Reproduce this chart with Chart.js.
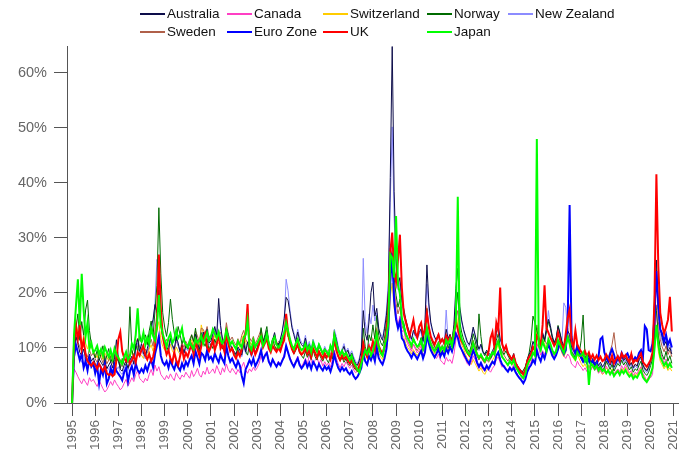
<!DOCTYPE html>
<html>
<head>
<meta charset="utf-8">
<script src="https://cdn.jsdelivr.net/npm/chart.js@4/dist/chart.umd.min.js"></script>
<style>
  html, body { margin: 0; padding: 0; background: #fff; }
  #wrap { position: relative; width: 694px; height: 457px; overflow: hidden; }
  #wrap canvas { position: absolute; left: 0; top: 0; }
  #legend { position: absolute; left: 0; top: 0; width: 694px; height: 44px;
            font-family: "Liberation Sans", Arial, sans-serif; font-size: 13.5px; color: #111; }
  .item { position: absolute; height: 18px; line-height: 18px; white-space: nowrap; }
  .item .swatch { position: absolute; left: 0; width: 25px; }
  .item .name { position: absolute; left: 27px; top: 0; }
</style>
</head>
<body>
<div id="wrap">
  <canvas id="chart" width="694" height="457"></canvas>
  <div id="legend"></div>
</div>
<script>
// Monthly series, January 1995 to December 2020 (values in %), one row per year.
const startYear = 1995;
const yearTicks = [1995,1996,1997,1998,1999,2000,2001,2002,2003,2004,2005,2006,2007,
                   2008,2009,2010,2011,2012,2013,2014,2015,2016,2017,2018,2019,2020,2021];
const percentTicks = [0, 10, 20, 30, 40, 50, 60];

const australia = [
  0, 9.5, 12.0, 10.8, 9.2, 8.6, 9.8, 8.1, 7.5, 8.9, 7.6, 8.2,
  7.1, 6.5, 8.0, 7.4, 6.8, 7.7, 6.2, 6.9, 7.5, 6.4, 7.9, 11.5,
  8.2, 6.1, 5.8, 6.9, 7.6, 6.3, 7.8, 8.5, 7.1, 10.2, 11.6, 9.4,
  10.8, 9.1, 8.4, 9.9, 11.3, 13.8, 15.2, 17.9, 16.4, 20.5, 14.2, 12.1,
  11.4, 10.2, 9.6, 11.8, 10.5, 9.7, 12.1, 10.9, 9.3, 10.6, 9.1, 10.4,
  9.8, 11.2, 10.1, 9.4, 12.5, 11.0, 9.8, 10.7, 12.9, 11.6, 13.4, 10.9,
  11.3, 12.6, 13.9, 12.2, 19.0, 14.1, 11.5, 10.8, 13.6, 12.4, 10.7, 9.9,
  9.4, 8.9, 10.2, 9.6, 8.7, 10.8, 9.3, 11.1, 9.8, 8.6, 9.9, 9.2,
  10.1, 11.4, 12.2, 10.6, 11.9, 13.2, 10.8, 9.7, 11.5, 12.8, 11.0, 10.3,
  11.6, 13.1, 15.4, 19.2, 18.6, 16.3, 13.7, 12.4, 11.1, 12.9, 11.3, 10.6,
  10.2, 11.8, 9.9, 10.7, 9.4, 11.1, 10.0, 9.2, 10.5, 9.6, 8.8, 9.9,
  9.1, 8.6, 10.2, 9.5, 12.8, 11.6, 9.9, 8.7, 9.4, 10.3, 8.9, 9.6,
  8.4, 9.1, 8.0, 7.2, 6.9, 7.8, 9.6, 16.8, 12.7, 11.4, 14.9, 20.1,
  22.0, 15.8, 17.2, 13.6, 12.1, 11.4, 13.5, 15.9, 20.4, 41.0, 64.8, 38.5,
  26.2, 21.4, 22.8, 18.6, 17.1, 15.3, 13.9, 12.8, 11.6, 13.2, 12.4, 11.9,
  12.8, 13.5, 11.2, 14.6, 25.1, 18.2, 14.7, 13.1, 12.0, 11.4, 12.6, 11.1,
  11.8, 10.9, 13.4, 11.7, 12.5, 11.3, 14.2, 20.8, 24.5, 17.6, 15.1, 13.4,
  12.2, 11.1, 10.6, 11.9, 13.8, 12.4, 10.9, 9.8, 10.7, 9.4, 8.9, 9.6,
  9.1, 8.7, 9.5, 10.2, 12.9, 14.1, 11.6, 10.8, 9.7, 10.3, 9.2, 8.6,
  8.1, 9.0, 7.4, 6.8, 6.2, 5.9, 5.4, 6.1, 7.9, 8.8, 9.6, 11.2,
  10.4, 12.1, 11.3, 10.6, 12.8, 11.5, 13.7, 15.2, 14.1, 12.2, 11.0, 11.8,
  13.9, 12.6, 11.2, 10.4, 11.8, 13.1, 12.5, 10.1, 9.6, 8.8, 10.9, 9.3,
  8.7, 7.9, 8.4, 7.6, 8.9, 7.3, 8.1, 7.0, 7.7, 6.8, 7.4, 6.6,
  7.1, 8.3, 7.5, 6.9, 7.8, 6.5, 7.2, 8.0, 7.4, 8.6, 7.7, 8.1,
  7.5, 6.8, 7.3, 6.4, 7.0, 6.7, 7.9, 8.4, 6.9, 6.2, 5.8, 6.5,
  7.8, 8.6, 11.4, 26.0, 17.2, 13.6, 11.9, 10.5, 11.2, 9.4, 10.1, 8.9
];

const canada = [
  0, 6.2, 5.6, 4.8, 4.1, 3.5, 4.4, 3.8, 3.2, 4.6, 3.9, 4.3,
  3.6, 3.0, 4.1, 3.4, 2.6, 2.0, 2.4, 3.1, 3.9, 3.2, 4.2, 3.5,
  3.0, 2.4, 2.8, 3.6, 4.3, 3.1, 3.8, 4.6, 3.9, 5.2, 5.9, 4.5,
  4.1, 3.7, 4.5, 4.0, 5.2, 6.1, 5.0, 6.9, 5.8, 6.6, 5.2, 4.7,
  4.2, 5.0, 4.4, 5.3, 4.6, 4.1, 5.5, 4.8, 4.3, 5.1, 4.7, 5.6,
  5.0, 4.5, 5.9, 4.8, 5.4, 6.3, 5.1, 4.7, 5.8, 5.2, 6.5, 5.3,
  5.7, 6.2, 5.4, 6.8, 5.9, 5.1, 6.4, 5.6, 7.1, 6.0, 5.5, 6.3,
  5.8, 5.2, 6.1, 5.5, 6.6, 7.4, 6.0, 5.4, 6.2, 5.7, 6.5, 5.9,
  6.4, 7.2, 8.6, 7.5, 8.9, 9.4, 7.8, 6.9, 8.1, 7.3, 6.8, 7.6,
  7.0, 7.9, 8.8, 10.4, 9.1, 8.3, 7.4, 6.8, 7.7, 8.5, 7.2, 6.6,
  7.3, 8.1, 7.0, 8.7, 7.6, 6.9, 7.8, 8.4, 7.1, 7.9, 6.7, 7.5,
  6.8, 7.4, 6.5, 7.9, 9.6, 8.2, 7.1, 6.4, 7.2, 6.6, 7.5, 6.9,
  6.3, 6.9, 6.0, 5.5, 5.8, 6.5, 7.4, 11.2, 9.0, 8.6, 10.8, 9.5,
  10.2, 8.8, 9.7, 8.1, 7.6, 7.2, 8.4, 9.9, 13.5, 24.6, 28.4, 20.7,
  16.3, 14.1, 15.8, 12.9, 13.4, 11.6, 10.8, 10.1, 9.4, 10.7, 9.8, 9.1,
  9.6, 10.4, 8.7, 9.3, 13.8, 11.2, 9.9, 9.2, 8.6, 8.1, 8.9, 7.8,
  7.4, 7.0, 8.3, 7.6, 7.9, 7.2, 8.8, 11.4, 13.6, 11.0, 9.7, 8.5,
  7.9, 7.1, 6.8, 7.4, 8.6, 7.9, 7.0, 6.3, 6.9, 6.1, 5.8, 6.4,
  6.0, 5.6, 6.3, 6.8, 7.9, 8.4, 7.3, 6.5, 6.9, 6.2, 5.9, 6.6,
  6.2, 7.0, 5.8, 5.2, 4.7, 4.4, 4.9, 5.3, 6.1, 6.9, 7.4, 8.8,
  9.4, 10.8, 9.9, 8.7, 9.5, 8.8, 9.9, 11.4, 10.5, 9.2, 8.4, 9.1,
  11.0, 10.2, 9.3, 8.6, 8.1, 8.9, 8.4, 7.1, 6.8, 6.4, 7.6, 6.9,
  6.5, 5.9, 6.4, 5.7, 6.8, 6.0, 6.6, 5.9, 6.3, 5.4, 5.9, 5.3,
  5.6, 6.7, 6.1, 5.4, 6.0, 5.3, 5.8, 6.2, 5.7, 6.8, 6.1, 7.0,
  6.2, 5.5, 5.9, 5.0, 5.6, 5.3, 6.1, 6.6, 5.4, 4.8, 3.8, 4.9,
  4.6, 5.2, 10.4, 17.8, 12.1, 9.4, 8.2, 7.3, 8.0, 6.9, 7.4, 6.5
];

const switzerland = [
  0, 11.2, 14.5, 12.8, 11.6, 10.4, 12.2, 10.9, 9.8, 11.3, 10.1, 9.4,
  8.9, 8.2, 9.6, 8.8, 7.9, 9.1, 8.4, 7.6, 8.7, 7.9, 9.3, 8.1,
  8.6, 7.8, 7.2, 8.4, 9.1, 7.7, 8.3, 9.5, 8.2, 9.9, 10.4, 9.0,
  8.7, 8.1, 9.3, 8.5, 9.8, 10.6, 9.4, 11.7, 13.2, 14.8, 11.6, 10.3,
  9.6, 10.4, 9.1, 10.7, 9.5, 8.9, 10.2, 9.4, 8.8, 10.1, 9.3, 10.5,
  9.9, 10.8, 11.5, 10.2, 12.1, 11.4, 10.3, 14.2, 12.6, 11.9, 12.8, 11.2,
  11.6, 10.9, 12.3, 11.4, 10.8, 12.0, 11.1, 10.5, 13.8, 11.7, 10.6, 11.3,
  10.4, 9.8, 10.9, 10.1, 11.6, 12.4, 11.0, 10.3, 11.2, 10.6, 11.5, 10.2,
  10.9, 11.8, 12.6, 10.7, 11.4, 12.2, 10.5, 9.8, 11.0, 10.4, 9.9, 10.6,
  10.1, 10.8, 11.6, 13.2, 11.9, 10.7, 9.9, 9.4, 10.2, 10.9, 9.6, 9.1,
  9.5, 10.3, 9.2, 9.8, 8.9, 10.1, 9.4, 8.7, 9.6, 9.0, 8.4, 9.2,
  8.6, 9.1, 8.2, 9.4, 10.8, 9.7, 8.8, 8.1, 8.9, 8.3, 8.7, 8.0,
  7.5, 8.1, 7.2, 6.6, 6.2, 6.9, 7.6, 10.4, 8.9, 8.2, 9.8, 9.0,
  9.7, 8.6, 11.2, 9.1, 8.4, 7.9, 8.8, 9.6, 12.1, 19.4, 21.8, 17.3,
  15.1, 13.8, 14.6, 12.4, 11.9, 10.8, 10.1, 9.6, 8.9, 9.7, 9.1, 8.6,
  9.2, 9.8, 8.5, 9.4, 12.6, 11.1, 10.2, 9.5, 8.9, 9.6, 10.3, 9.1,
  9.7, 8.9, 10.4, 9.6, 10.8, 11.7, 13.4, 16.9, 14.2, 11.8, 10.6, 9.9,
  8.8, 8.1, 7.6, 7.0, 7.9, 7.2, 6.5, 5.8, 6.4, 5.6, 5.2, 5.9,
  6.3, 7.1, 7.8, 8.4, 9.6, 10.8, 9.1, 8.2, 7.9, 7.3, 6.8, 7.5,
  6.9, 7.4, 6.6, 5.9, 5.3, 4.8, 5.2, 5.7, 6.6, 7.4, 7.9, 8.9,
  9.8, 13.6, 11.4, 10.2, 11.5, 10.8, 9.9, 10.6, 9.6, 8.8, 8.2, 8.9,
  9.6, 10.4, 9.1, 8.4, 9.2, 12.8, 10.6, 8.7, 8.1, 7.6, 8.8, 8.0,
  7.2, 6.6, 7.1, 6.3, 6.9, 6.1, 6.8, 6.0, 6.4, 5.6, 5.9, 5.2,
  5.5, 6.4, 5.9, 5.3, 6.2, 5.1, 5.6, 5.9, 5.4, 6.3, 5.8, 6.5,
  5.9, 5.2, 5.6, 4.8, 5.3, 5.0, 5.8, 6.5, 5.1, 4.6, 4.2, 4.7,
  5.4, 6.2, 9.8, 13.6, 9.4, 7.6, 6.9, 6.2, 6.8, 5.9, 6.4, 5.8
];

const norway = [
  0, 8.9, 13.6, 16.2, 11.4, 14.8, 12.3, 16.9, 18.7, 13.2, 10.6, 9.4,
  8.2, 9.6, 7.8, 8.9, 10.4, 7.3, 8.6, 9.9, 7.4, 8.1, 7.0, 8.4,
  7.6, 6.3, 8.1, 7.2, 6.8, 8.9, 17.5, 9.6, 8.2, 10.7, 9.4, 12.6,
  10.9, 11.8, 12.4, 10.6, 13.1, 14.9, 12.2, 16.8, 21.4, 35.5, 23.6, 16.4,
  13.8, 12.1, 14.6, 18.9, 15.2, 12.7, 11.3, 13.9, 12.4, 10.8, 11.9, 10.6,
  9.8, 10.9, 12.4, 11.2, 13.6, 10.4, 9.2, 12.8, 11.1, 10.3, 11.7, 9.6,
  10.8, 9.9, 11.6, 10.4, 12.9, 11.3, 9.8, 10.6, 13.4, 11.2, 9.5, 10.1,
  9.1, 8.6, 9.7, 8.8, 10.3, 12.1, 9.4, 8.7, 10.6, 9.2, 10.8, 9.0,
  9.8, 10.6, 13.7, 11.2, 12.4, 13.9, 10.9, 9.7, 11.6, 10.4, 9.6, 10.9,
  9.7, 10.8, 12.3, 14.6, 12.1, 11.2, 9.8, 8.9, 9.6, 10.4, 9.1, 8.6,
  8.1, 9.4, 8.3, 9.1, 7.9, 9.6, 8.4, 7.8, 9.0, 8.2, 7.6, 8.5,
  7.9, 7.3, 8.6, 8.0, 11.6, 10.1, 8.4, 7.6, 8.3, 7.4, 8.0, 7.2,
  6.8, 7.4, 6.5, 6.0, 5.7, 6.4, 7.9, 13.6, 10.2, 9.1, 12.4, 11.3,
  14.2, 11.6, 15.9, 12.3, 11.0, 10.4, 11.8, 14.6, 19.2, 28.1, 26.4, 22.8,
  19.6, 17.4, 18.9, 15.2, 14.6, 12.8, 11.9, 11.2, 10.4, 11.8, 10.9, 10.3,
  10.8, 11.9, 9.7, 11.4, 17.2, 13.6, 11.8, 10.9, 10.2, 9.6, 10.7, 9.8,
  10.1, 9.4, 11.2, 10.0, 10.9, 10.2, 12.6, 16.4, 20.1, 14.8, 12.9, 11.6,
  10.8, 9.9, 9.2, 10.4, 12.6, 11.3, 9.6, 16.2, 12.1, 9.4, 8.6, 9.3,
  8.7, 8.1, 8.9, 9.6, 11.4, 12.6, 10.2, 9.4, 8.8, 9.5, 8.6, 8.0,
  7.6, 8.4, 7.0, 6.4, 5.8, 5.3, 5.9, 6.6, 7.8, 9.1, 11.4, 15.8,
  14.6, 13.2, 11.8, 10.9, 12.4, 11.2, 12.9, 14.8, 13.6, 11.9, 10.8, 11.4,
  14.1, 12.8, 11.0, 9.9, 10.6, 12.2, 11.1, 9.3, 8.8, 8.1, 9.6, 9.1,
  11.4, 16.0, 8.6, 7.4, 8.2, 6.9, 7.6, 6.5, 7.1, 6.2, 6.8, 5.9,
  6.4, 7.6, 6.9, 6.1, 7.0, 5.8, 6.5, 7.2, 6.7, 7.8, 6.9, 7.5,
  6.8, 6.0, 6.6, 5.6, 6.2, 5.9, 6.9, 7.6, 6.0, 5.4, 5.0, 5.6,
  6.8, 7.9, 19.6, 16.8, 12.2, 10.1, 8.8, 7.9, 9.4, 7.6, 8.6, 7.2
];

const newZealand = [
  0, 7.8, 10.4, 9.1, 8.2, 7.4, 8.8, 7.1, 6.6, 7.9, 6.8, 7.3,
  6.4, 5.9, 7.2, 6.6, 5.8, 7.0, 5.6, 6.3, 6.9, 5.7, 7.1, 6.0,
  6.6, 5.5, 5.2, 6.3, 7.1, 5.9, 7.4, 8.2, 6.9, 9.6, 10.9, 8.8,
  10.1, 8.7, 8.0, 9.4, 10.9, 13.2, 14.6, 18.2, 26.1, 24.3, 15.6, 12.4,
  11.2, 10.1, 9.5, 11.4, 10.2, 9.4, 11.7, 10.5, 9.1, 10.3, 8.9, 10.0,
  9.5, 10.9, 9.8, 9.1, 12.2, 10.7, 9.5, 10.4, 12.6, 11.3, 13.1, 10.6,
  11.0, 12.3, 13.5, 11.9, 16.8, 13.8, 11.2, 10.5, 13.2, 12.1, 10.4, 9.6,
  9.1, 8.6, 9.9, 9.3, 8.4, 10.5, 9.0, 10.8, 9.5, 8.3, 9.6, 8.9,
  9.8, 11.1, 11.9, 10.3, 11.6, 12.9, 10.5, 9.4, 11.2, 12.5, 10.7, 10.0,
  11.3, 12.8, 15.1, 22.5, 20.4, 16.9, 14.2, 12.8, 11.6, 13.4, 11.8, 11.0,
  10.6, 12.3, 10.3, 11.2, 9.8, 11.6, 10.4, 9.6, 10.9, 10.0, 9.2, 10.3,
  9.5, 9.0, 10.7, 9.9, 13.4, 12.1, 10.3, 9.1, 9.8, 10.8, 9.3, 10.0,
  8.8, 9.5, 8.4, 7.6, 7.2, 8.2, 10.1, 26.3, 14.8, 12.6, 16.2, 14.4,
  17.8, 14.9, 16.4, 13.1, 12.6, 11.8, 13.9, 16.8, 22.1, 36.5, 50.2, 33.6,
  24.8, 20.6, 21.9, 17.8, 16.5, 14.9, 13.6, 12.5, 11.3, 12.9, 12.1, 11.6,
  12.4, 13.2, 10.9, 14.1, 21.6, 17.1, 14.3, 12.8, 11.7, 11.1, 12.3, 10.8,
  11.5, 10.6, 16.9, 11.4, 12.2, 11.0, 13.8, 17.9, 20.2, 16.8, 14.7, 13.1,
  11.9, 10.8, 10.3, 11.6, 13.5, 12.1, 10.6, 9.5, 10.4, 9.1, 8.6, 9.3,
  8.8, 8.4, 9.2, 9.9, 12.6, 13.8, 11.3, 10.5, 9.4, 10.0, 8.9, 8.3,
  7.8, 8.7, 7.1, 6.5, 5.9, 5.6, 5.2, 5.8, 7.6, 8.5, 9.3, 10.9,
  10.1, 11.8, 11.0, 10.3, 12.5, 11.2, 13.4, 16.8, 13.8, 11.9, 10.7, 11.5,
  13.6, 12.3, 10.9, 18.2, 17.4, 12.8, 12.2, 9.8, 9.3, 8.5, 10.6, 9.0,
  8.4, 7.6, 8.1, 7.3, 8.6, 7.0, 7.8, 6.7, 7.4, 6.5, 7.1, 6.3,
  6.8, 8.0, 7.2, 6.6, 7.5, 6.2, 6.9, 7.7, 7.1, 8.3, 7.4, 7.8,
  7.2, 6.5, 7.0, 6.1, 6.7, 6.4, 7.6, 8.1, 6.6, 5.9, 5.5, 6.2,
  7.5, 9.1, 16.2, 23.4, 16.8, 12.6, 11.2, 10.3, 11.8, 9.9, 10.6, 9.4
];

const sweden = [
  0, 9.8, 12.6, 11.1, 10.2, 9.3, 10.9, 9.0, 8.4, 9.7, 8.6, 9.1,
  8.0, 7.4, 8.9, 8.2, 7.3, 8.6, 7.1, 7.8, 8.5, 7.2, 8.8, 7.5,
  8.1, 7.0, 6.6, 7.8, 8.6, 7.3, 8.8, 9.6, 8.2, 10.9, 11.8, 10.2,
  9.6, 8.9, 9.8, 9.1, 10.4, 11.6, 10.3, 13.4, 16.2, 21.8, 14.3, 12.0,
  10.8, 11.6, 10.2, 11.9, 10.6, 9.8, 11.3, 10.4, 9.6, 11.0, 10.1, 11.2,
  10.5, 11.6, 12.4, 11.0, 13.1, 12.2, 11.0, 13.6, 13.4, 12.5, 13.9, 12.0,
  12.4, 11.7, 13.1, 12.2, 11.6, 12.9, 11.8, 11.2, 14.6, 12.5, 11.4, 12.0,
  11.1, 10.5, 11.7, 10.8, 12.3, 13.2, 11.6, 10.9, 11.9, 11.2, 12.1, 10.8,
  11.5, 12.4, 13.4, 11.3, 12.0, 12.9, 11.1, 10.4, 11.7, 11.0, 10.5, 11.2,
  10.7, 11.4, 12.3, 13.9, 12.5, 11.3, 10.5, 9.9, 10.8, 11.5, 10.2, 9.7,
  10.1, 10.9, 9.8, 10.5, 9.5, 10.7, 10.0, 9.3, 10.2, 9.6, 9.0, 9.8,
  9.2, 9.7, 8.8, 10.1, 13.2, 10.3, 9.4, 8.7, 9.5, 8.9, 9.3, 8.6,
  8.0, 8.7, 7.8, 7.1, 6.7, 7.5, 8.2, 11.3, 9.6, 8.8, 10.5, 9.7,
  10.6, 9.3, 12.0, 9.8, 9.1, 8.6, 9.5, 11.4, 14.8, 24.2, 25.6, 20.4,
  18.1, 16.2, 17.5, 14.1, 13.2, 11.9, 11.2, 10.6, 9.8, 10.7, 10.1, 9.5,
  10.2, 10.8, 9.4, 10.3, 13.9, 12.2, 11.1, 10.4, 9.7, 10.5, 11.2, 9.9,
  10.6, 9.8, 11.3, 10.5, 11.7, 10.6, 12.1, 15.2, 16.8, 13.0, 11.6, 10.8,
  9.7, 9.0, 8.5, 9.8, 11.4, 10.1, 8.6, 7.9, 8.5, 7.7, 7.2, 7.9,
  7.4, 8.0, 8.6, 9.2, 10.5, 11.6, 9.9, 9.0, 8.7, 8.1, 7.6, 8.3,
  7.7, 8.2, 7.4, 6.7, 6.1, 5.6, 6.0, 6.5, 7.4, 8.2, 8.7, 9.7,
  10.6, 14.2, 12.2, 11.0, 12.3, 11.6, 10.7, 11.4, 10.4, 9.6, 9.0, 9.7,
  10.4, 11.2, 9.9, 9.2, 10.0, 13.6, 11.4, 9.5, 8.9, 8.4, 9.6, 8.8,
  8.0, 7.4, 7.9, 7.1, 7.7, 6.9, 7.6, 6.8, 7.2, 6.4, 6.7, 6.0,
  6.3, 7.2, 8.1, 9.4, 10.6, 12.8, 9.7, 8.1, 7.6, 8.5, 7.9, 8.3,
  7.6, 6.9, 7.4, 6.6, 7.1, 6.8, 7.8, 8.4, 7.0, 6.4, 6.0, 6.6,
  7.2, 8.4, 16.9, 24.1, 14.8, 11.6, 10.2, 9.3, 10.4, 8.8, 9.6, 8.4
];

const euroZone = [
  0, 8.4, 10.6, 9.2, 7.8, 8.9, 6.4, 7.6, 5.9, 8.1, 6.6, 7.2,
  5.4, 6.8, 3.6, 6.2, 5.1, 7.0, 3.5, 4.4, 6.3, 5.2, 6.9, 5.8,
  5.3, 4.8, 4.1, 5.6, 6.4, 3.9, 5.8, 6.7, 5.1, 7.2, 6.0, 5.5,
  6.2, 5.6, 6.8, 5.9, 7.1, 7.8, 6.5, 8.9, 10.4, 12.1, 8.6, 7.4,
  6.9, 7.6, 6.4, 7.9, 6.8, 6.1, 7.4, 6.5, 5.9, 7.2, 6.3, 7.5,
  6.8, 7.9, 8.6, 7.2, 9.4, 8.3, 7.1, 9.1, 8.7, 7.8, 9.6, 8.0,
  8.4, 7.6, 9.0, 8.1, 7.4, 8.8, 7.9, 7.2, 10.4, 8.6, 7.5, 8.1,
  7.2, 6.5, 7.6, 6.8, 4.9, 3.6, 6.1, 6.9, 7.8, 7.0, 8.1, 6.7,
  7.4, 8.3, 9.6, 7.8, 8.6, 9.1, 7.5, 6.8, 7.9, 7.2, 6.6, 7.3,
  6.9, 7.7, 8.4, 10.4, 9.2, 8.0, 7.2, 6.6, 7.4, 8.1, 6.9, 6.3,
  6.8, 7.6, 6.5, 7.3, 6.2, 7.5, 6.9, 6.1, 7.1, 6.4, 5.9, 6.7,
  6.1, 6.6, 5.7, 6.9, 8.8, 7.4, 6.4, 5.8, 6.5, 5.9, 6.3, 5.6,
  5.2, 5.8, 4.9, 4.4, 4.8, 5.5, 6.4, 9.1, 7.6, 7.0, 8.5, 7.8,
  8.9, 7.6, 10.1, 8.2, 7.5, 7.0, 8.1, 9.8, 13.6, 21.9, 27.2, 18.6,
  15.2, 13.6, 14.9, 11.8, 11.3, 10.1, 9.4, 8.9, 8.2, 9.1, 8.6, 8.0,
  8.8, 9.5, 8.1, 9.2, 12.4, 10.8, 9.6, 8.9, 8.3, 9.0, 9.8, 8.5,
  9.3, 8.5, 9.9, 9.1, 10.2, 9.4, 10.8, 12.6, 11.9, 10.4, 9.7, 9.0,
  8.3, 7.6, 7.1, 8.4, 9.6, 8.7, 7.4, 6.6, 7.3, 6.5, 6.0, 6.8,
  6.2, 6.9, 7.5, 7.1, 8.6, 9.2, 7.9, 7.0, 6.6, 6.1, 5.7, 6.4,
  5.9, 6.4, 5.6, 5.0, 4.5, 4.1, 3.6, 4.3, 5.6, 6.4, 6.9, 7.8,
  7.2, 9.6, 8.4, 7.6, 8.9, 8.1, 9.4, 10.6, 9.7, 8.6, 8.0, 8.7,
  9.8, 10.9, 9.6, 8.9, 9.6, 14.8, 36.0, 12.1, 9.8, 9.1, 10.4, 8.9,
  8.2, 7.5, 8.0, 7.3, 7.9, 7.0, 7.7, 7.1, 6.8, 8.4, 11.6, 12.0,
  9.2, 8.2, 7.6, 8.9, 9.8, 8.8, 7.5, 8.4, 7.8, 9.1, 8.2, 8.6,
  9.0, 8.1, 8.7, 7.6, 8.3, 7.9, 9.1, 9.6, 8.2, 14.0, 13.4, 9.6,
  9.4, 10.8, 15.6, 24.0, 17.9, 13.4, 12.6, 11.2, 12.4, 10.6, 11.5, 10.1
];

const uk = [
  0, 10.8, 14.1, 11.6, 13.9, 9.8, 11.4, 8.9, 7.6, 7.1, 6.8, 7.4,
  6.9, 6.2, 7.1, 6.4, 5.8, 6.6, 5.4, 5.1, 5.3, 4.9, 5.2, 7.8,
  11.6, 12.9, 9.4, 8.2, 7.6, 8.4, 7.1, 7.8, 8.6, 7.4, 9.2, 8.6,
  9.6, 10.4, 8.7, 7.9, 8.9, 7.6, 8.4, 10.1, 14.6, 27.0, 17.2, 12.1,
  10.3, 8.8, 9.6, 8.1, 7.4, 9.2, 7.8, 6.9, 8.5, 9.9, 8.0, 9.1,
  8.4, 9.7, 10.6, 8.9, 11.2, 9.8, 8.6, 10.3, 11.8, 12.6, 10.1, 9.4,
  10.2, 11.4, 9.6, 10.8, 12.4, 9.9, 10.6, 9.3, 12.8, 10.7, 9.4, 9.9,
  8.7, 8.1, 9.2, 8.5, 9.8, 11.4, 12.6, 18.0, 9.7, 8.9, 10.2, 8.8,
  9.6, 10.8, 11.9, 10.1, 10.9, 11.7, 9.9, 9.2, 10.4, 9.8, 9.3, 10.0,
  9.4, 10.6, 11.4, 16.2, 12.8, 11.0, 9.8, 9.1, 9.9, 10.7, 9.3, 8.8,
  9.2, 10.0, 8.9, 9.6, 8.4, 9.9, 9.1, 8.3, 9.4, 8.7, 8.1, 9.0,
  8.3, 8.9, 7.9, 9.3, 11.8, 9.6, 8.5, 7.8, 8.6, 8.0, 8.4, 7.7,
  7.2, 7.9, 7.0, 6.4, 6.0, 6.8, 7.6, 10.8, 9.2, 8.4, 10.2, 9.6,
  11.2, 9.8, 12.6, 10.4, 9.6, 9.0, 10.2, 12.8, 16.9, 27.4, 31.0, 24.0,
  22.0, 26.0, 30.6, 21.0, 16.2, 14.8, 13.4, 12.2, 13.6, 15.1, 12.8, 11.9,
  13.9, 14.6, 12.4, 13.2, 16.4, 13.8, 12.1, 11.3, 10.6, 11.6, 12.4, 11.0,
  11.6, 10.8, 12.2, 11.3, 12.0, 11.1, 12.6, 14.8, 13.4, 12.1, 11.2, 10.6,
  9.8, 9.1, 8.6, 9.6, 10.8, 9.9, 8.8, 8.1, 8.7, 8.0, 7.6, 8.3,
  9.4, 11.8, 12.9, 10.1, 14.6, 13.2, 21.0, 10.8, 9.6, 10.4, 9.1, 8.5,
  7.9, 8.6, 7.3, 6.6, 6.1, 5.6, 5.2, 5.9, 7.6, 8.4, 8.9, 10.2,
  9.6, 12.2, 11.6, 10.4, 14.2, 21.4, 13.6, 12.8, 11.9, 11.2, 10.4, 11.0,
  12.8, 11.6, 10.4, 9.8, 12.6, 15.4, 17.0, 11.2, 10.1, 13.2, 10.6, 9.9,
  9.3, 8.6, 9.4, 8.5, 9.2, 8.1, 8.8, 7.9, 8.6, 7.8, 8.4, 7.6,
  7.9, 8.8, 8.2, 7.5, 8.6, 7.2, 7.9, 8.5, 7.7, 9.0, 8.3, 8.7,
  8.0, 7.4, 8.9, 7.3, 7.8, 7.6, 8.4, 9.0, 7.5, 7.0, 6.6, 7.2,
  7.8, 9.2, 18.6, 41.6, 24.8, 16.4, 14.2, 12.6, 13.8, 15.1, 19.3, 13.0
];

const japan = [
  0, 12.4, 17.6, 22.5, 14.2, 23.5, 16.8, 12.1, 14.6, 9.8, 10.9, 9.2,
  9.6, 10.4, 8.9, 9.8, 8.6, 10.1, 9.2, 8.4, 9.6, 8.1, 9.9, 8.8,
  8.2, 7.6, 7.1, 8.4, 9.3, 7.8, 8.6, 10.8, 9.9, 12.4, 17.2, 11.6,
  11.2, 12.8, 10.6, 11.9, 10.8, 13.6, 12.2, 11.4, 13.8, 19.6, 14.2, 12.6,
  11.4, 10.2, 11.8, 12.6, 10.9, 11.6, 13.2, 11.8, 12.4, 13.6, 11.2, 10.6,
  10.1, 11.2, 10.4, 9.8, 11.6, 10.9, 11.4, 12.2, 10.8, 11.9, 12.8, 11.4,
  12.1, 13.4, 12.6, 11.8, 12.9, 11.4, 10.9, 11.6, 13.2, 11.8, 10.6, 11.2,
  10.4, 9.8, 11.2, 10.6, 10.1, 11.8, 12.4, 15.0, 10.3, 9.7, 11.4, 10.2,
  10.8, 11.6, 12.1, 10.4, 11.2, 12.6, 10.9, 9.8, 11.4, 12.0, 10.6, 10.1,
  10.6, 11.9, 12.8, 14.6, 13.1, 11.6, 10.4, 9.8, 10.9, 11.6, 10.2, 9.6,
  9.9, 10.8, 9.6, 10.4, 9.2, 11.0, 10.1, 9.4, 10.6, 9.8, 9.0, 9.7,
  9.3, 8.7, 10.4, 9.6, 12.4, 10.9, 9.6, 8.8, 9.5, 8.6, 9.1, 8.4,
  7.8, 8.6, 7.4, 6.8, 6.1, 5.6, 7.2, 8.4, 9.6, 8.9, 9.8, 8.6,
  9.4, 10.8, 12.6, 10.2, 9.1, 8.6, 10.4, 11.8, 14.6, 27.0, 26.4, 22.8,
  34.0, 21.6, 19.8, 15.4, 13.8, 12.6, 11.8, 11.2, 10.4, 11.6, 10.8, 10.2,
  10.6, 11.4, 9.8, 10.9, 13.6, 11.8, 10.6, 9.9, 9.4, 10.2, 10.8, 9.6,
  10.2, 9.6, 11.4, 10.8, 11.6, 10.4, 12.8, 14.6, 37.5, 13.2, 11.6, 10.8,
  9.9, 9.2, 8.8, 9.6, 10.9, 9.8, 8.9, 8.2, 8.8, 8.1, 7.6, 8.4,
  7.9, 8.6, 9.2, 8.8, 10.4, 11.2, 9.6, 8.4, 7.9, 7.4, 6.9, 7.6,
  7.1, 7.8, 6.6, 6.0, 5.4, 4.9, 4.5, 5.2, 6.8, 7.6, 8.2, 9.1,
  8.6, 48.0, 10.4, 9.6, 11.2, 10.2, 9.4, 11.6, 10.8, 9.6, 8.9, 9.4,
  11.4, 10.6, 9.8, 9.1, 10.4, 11.9, 10.8, 8.9, 8.4, 7.9, 9.2, 8.6,
  8.6, 9.2, 7.6, 8.4, 3.3, 7.2, 6.8, 6.2, 6.8, 5.9, 6.4, 5.8,
  6.1, 5.4, 5.9, 5.2, 5.8, 4.9, 5.4, 5.8, 5.1, 5.9, 5.4, 6.0,
  5.3, 4.8, 5.2, 4.4, 4.9, 4.6, 5.3, 5.9, 4.7, 4.2, 3.8, 4.4,
  5.2, 6.4, 9.8, 14.2, 10.6, 8.4, 7.6, 6.8, 7.4, 6.5, 7.2, 6.4
];

// Series styling; lower "order" is painted on top.
const series = [
  { label: 'Australia',   values: australia,   color: '#0d0d4a', width: 1,   order: 3 },
  { label: 'Canada',      values: canada,      color: '#ff3fc4', width: 1,   order: 6 },
  { label: 'Switzerland', values: switzerland, color: '#ffcc00', width: 1,   order: 8 },
  { label: 'Norway',      values: norway,      color: '#006b00', width: 1,   order: 4 },
  { label: 'New Zealand', values: newZealand,  color: '#8c8cff', width: 1,   order: 5 },
  { label: 'Sweden',      values: sweden,      color: '#b0604a', width: 1,   order: 7 },
  { label: 'Euro Zone',   values: euroZone,    color: '#0000ff', width: 2,   order: 2 },
  { label: 'UK',          values: uk,          color: '#ff0000', width: 2,   order: 1 },
  { label: 'Japan',       values: japan,       color: '#00ff00', width: 2,   order: 0 }
];

// Legend laid out as a grid: two rows, columns aligned.
const legendSlots = [
  [140, 5], [227, 5], [323, 5], [427, 5], [508, 5],
  [140, 23], [227, 23], [323, 23], [427, 23]
];
const legendEl = document.getElementById('legend');
series.forEach((s, i) => {
  const item = document.createElement('div');
  item.className = 'item';
  item.style.left = legendSlots[i][0] + 'px';
  item.style.top = legendSlots[i][1] + 'px';
  const sw = document.createElement('span');
  sw.className = 'swatch';
  const h = s.width > 1 ? 2.4 : 1.4;
  sw.style.height = h + 'px';
  sw.style.top = (9 - h / 2) + 'px';
  sw.style.background = s.color;
  const name = document.createElement('span');
  name.className = 'name';
  name.textContent = s.label;
  item.appendChild(sw);
  item.appendChild(name);
  legendEl.appendChild(item);
});

const fontFamily = "'Liberation Sans', Arial, Helvetica, sans-serif";
const axisColor = '#555555';

new Chart(document.getElementById('chart'), {
  type: 'line',
  data: {
    datasets: series.map(s => ({
      label: s.label,
      data: s.values.map((v, i) => ({ x: startYear + i / 12, y: v })),
      borderColor: s.color,
      backgroundColor: s.color,
      borderWidth: s.width,
      pointRadius: 0,
      tension: 0,
      fill: false,
      order: s.order
    }))
  },
  options: {
    responsive: false,
    animation: false,
    events: [],
    layout: { padding: { top: 46, right: 7, left: 0, bottom: 0 } },
    plugins: { legend: { display: false }, tooltip: { enabled: false } },
    scales: {
      x: {
        type: 'linear',
        min: 1994.78,
        max: 2021.19,
        afterBuildTicks: scale => { scale.ticks = yearTicks.map(v => ({ value: v })); },
        afterFit: scale => { scale.height = 54; },
        grid: { drawOnChartArea: false, drawTicks: true, tickLength: 13, color: axisColor, tickColor: axisColor },
        border: { display: true, color: axisColor, width: 1 },
        ticks: {
          autoSkip: false, minRotation: 90, maxRotation: 90, padding: 4,
          color: '#666666', font: { family: fontFamily, size: 13.5 },
          callback: v => String(v)
        }
      },
      y: {
        min: 0,
        max: 64.9,
        afterBuildTicks: scale => { scale.ticks = percentTicks.map(v => ({ value: v })); },
        afterFit: scale => { scale.width = 67; },
        grid: { drawOnChartArea: false, drawTicks: true, tickLength: 13, color: axisColor, tickColor: axisColor },
        border: { display: true, color: axisColor, width: 1 },
        ticks: {
          padding: 7, color: '#666666', font: { family: fontFamily, size: 14.5 },
          callback: v => v + '%'
        }
      }
    }
  }
});
</script>
</body>
</html>
